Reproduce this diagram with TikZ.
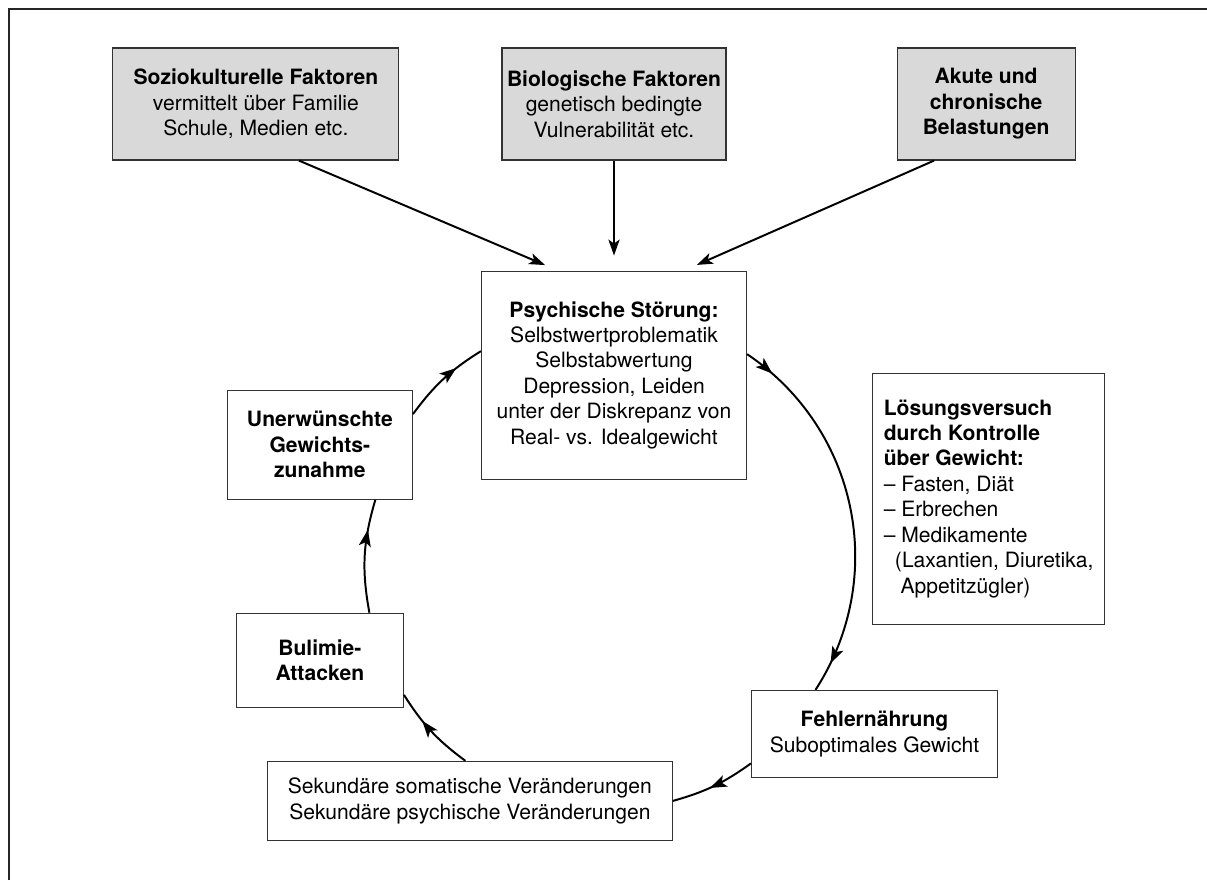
\documentclass[tikz,border=0pt]{standalone}
\usepackage{fontspec}
\setmainfont{TeX Gyre Heros}
\usetikzlibrary{positioning,arrows.meta,decorations.markings}
\tikzset{
	box/.style={draw=black!80, line width=0.8pt, inner sep=0pt, align=center,
		font=\fontsize{15}{18.1}\selectfont},
	topbox/.style={box, fill=gray!30, minimum height=2.8cm},
	pfeil/.style={line width=1.4pt, -{Stealth[length=0.4cm,width=0.28cm,inset=0.1cm]}},
	kreis/.style={line width=1.4pt},
	spitze/.style={postaction={decorate, decoration={markings,
		mark=at position #1 with {\arrow{Stealth[length=0.42cm,width=0.3cm,inset=0.1cm]}}}}}
}

\begin{document}
\begin{tikzpicture}
	\useasboundingbox (0,0) rectangle (30.175,-22);
	\draw[black!85, line width=0.8pt] (0.225,-22) |- (30.175,-0.225);

	\node[topbox, minimum width=5.6cm] (bio) at (15.35,-2.6)
		{\textbf{Biologische Faktoren}\\genetisch bedingte\\Vulnerabilität etc.};
	\node[topbox, minimum width=7.15cm, left=2.55cm of bio] (sozio)
		{\textbf{Soziokulturelle Faktoren}\\vermittelt über Familie\\Schule, Medien etc.};
	\node[topbox, minimum width=4.45cm, right=4.25cm of bio] (akute)
		{\textbf{Akute und}\\\textbf{chronische}\\\textbf{Belastungen}};

	\node[box, minimum width=6.625cm, minimum height=5.2cm, below=2.75cm of bio] (psych)
		{\textbf{Psychische Störung:}\\Selbstwertproblematik\\Selbstabwertung\\Depression, Leiden\\unter der Diskrepanz von\\Real- vs. Idealgewicht};
	\node[box, minimum width=4.625cm, minimum height=2.725cm, left=1.7cm of psych, yshift=-1.7375cm] (unerw)
		{\textbf{Unerwünschte}\\\textbf{Gewichts-}\\\textbf{zunahme}};
	\node[box, minimum width=4.175cm, minimum height=2.35cm, below=2.825cm of unerw] (bul)
		{\textbf{Bulimie-}\\\textbf{Attacken}};
	\node[box, minimum width=10.125cm, minimum height=1.975cm, below=1.325cm of bul, xshift=3.75cm] (sek)
		{Sekundäre somatische Veränderungen\\Sekundäre psychische Veränderungen};
	\node[box, minimum width=6.15cm, minimum height=2.175cm, right=1.95cm of sek, yshift=1.675cm] (fehl)
		{\textbf{Fehlernährung}\\Suboptimales Gewicht};
	\node[box, align=left, minimum width=5.8cm, minimum height=6.275cm, right=3.125cm of psych, yshift=-3.0875cm] (loes)
		{\textbf{Lösungsversuch}\\\textbf{durch Kontrolle}\\\textbf{über Gewicht:}\\– Fasten, Diät\\– Erbrechen\\– Medikamente\\\hspace*{0.28cm}(Laxantien, Diuretika,\\\hspace*{0.42cm}Appetitzügler)};

	% Einfluesse von oben
	\draw[pfeil, shorten >=0.35cm] ([xshift=1.075cm]sozio.south) -- ([xshift=-1.4cm]psych.north);
	\draw[pfeil, shorten >=0.375cm] (bio.south) -- (psych.north);
	\draw[pfeil, shorten >=0.35cm] ([xshift=-1.3cm]akute.south) -- ([xshift=1.75cm]psych.north);

	% Teufelskreis
	\draw[kreis, spitze=0.68] ([yshift=0.7625cm]unerw.east) to[bend left=10.75] ([yshift=0.6cm]psych.west);
	\draw[kreis, spitze=0.084, spitze=0.92] ([yshift=0.525cm]psych.east) to[bend left=44.5] ([xshift=-1.475cm]fehl.north);
	\draw[kreis, spitze=0.55] ([yshift=-0.7375cm]fehl.west) to[bend left=10] (sek.east);
	\draw[kreis, spitze=0.65] ([xshift=-0.1125cm]sek.north) to[bend left=10.6] ([yshift=-0.865cm]bul.east);
	\draw[kreis, spitze=0.73] ([xshift=1.2375cm]bul.north) to[bend left=13.4] ([xshift=1.3875cm]unerw.south);
\end{tikzpicture}
\end{document}
